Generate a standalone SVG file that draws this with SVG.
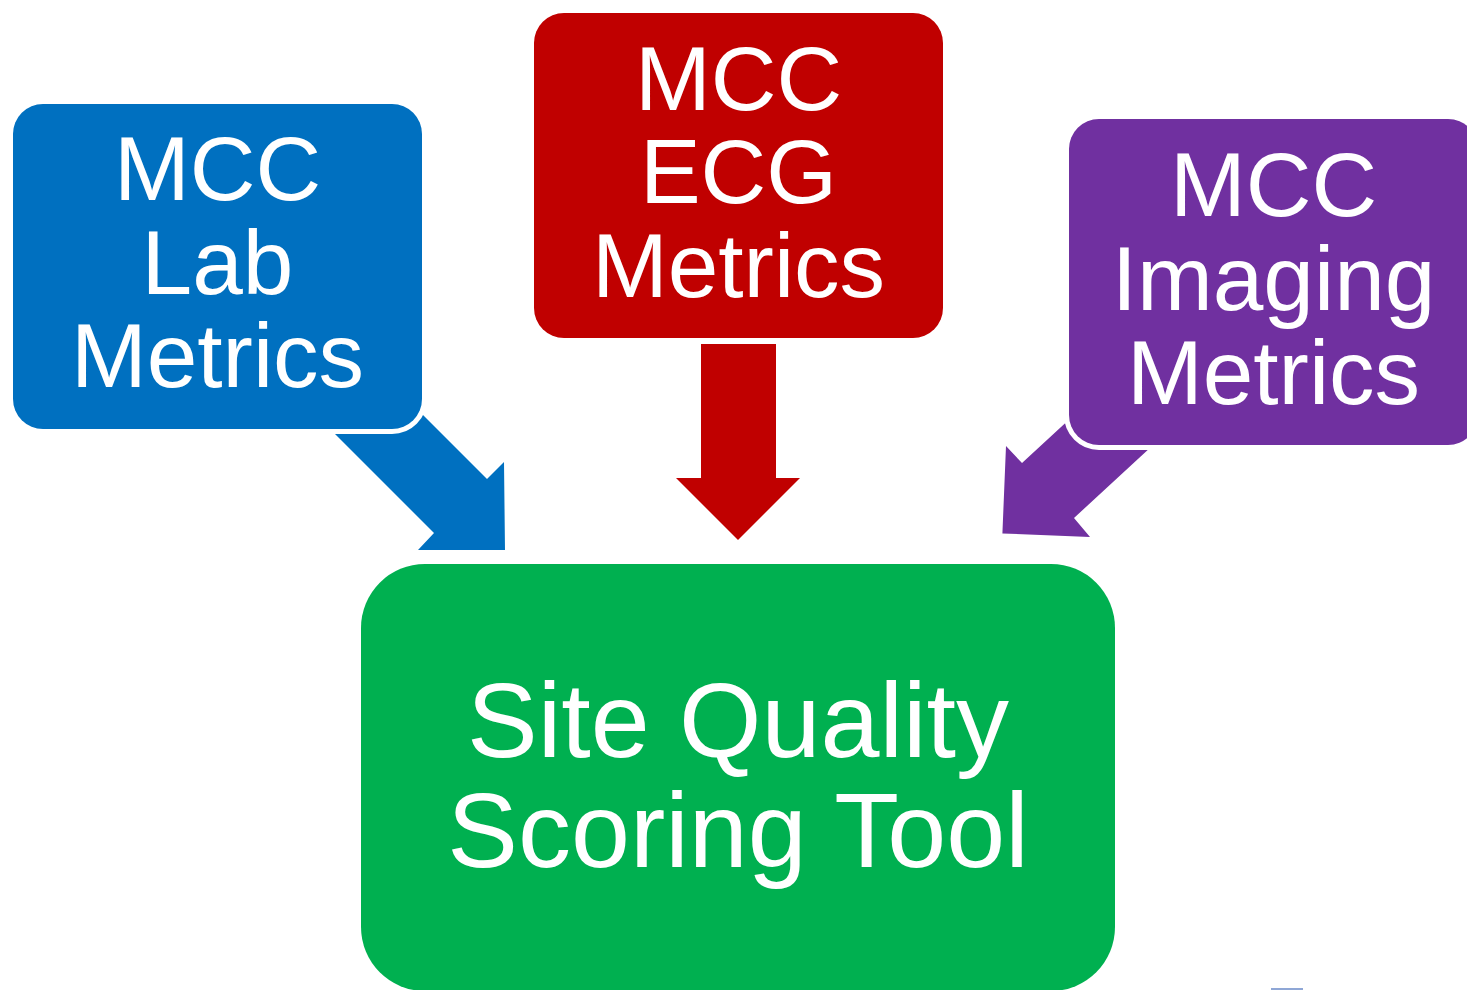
<svg xmlns="http://www.w3.org/2000/svg" width="1467" height="990" viewBox="0 0 1467 990">
  <style>
    .box { stroke: #FFFFFF; stroke-width: 10; paint-order: stroke; }
    .lbl { font-family: "Liberation Sans", Arial, sans-serif; fill: #FFFFFF; text-anchor: middle; }
    .small { font-size: 91px; }
    .big { font-size: 106px; }
  </style>
  <rect width="1467" height="990" fill="#FFFFFF"/>
  <g id="connectors">
    <polygon id="arrow-lab" fill="#0070C0" points="320.5,419.5 434,533 418,550 505,550 504,462 487,479 374,366"/>
    <polygon id="arrow-ecg" fill="#C00000" points="701,344 776,344 776,478 800,478 738,540 676,478 701,478"/>
    <polygon id="arrow-imaging" fill="#7030A0" points="1125,368 1022,463 1006,446 1002.4,533.5 1090,537 1074,518 1177,423"/>
  </g>
  <g id="node-site-quality">
    <rect x="361" y="564" width="754" height="427" rx="64" ry="64" fill="#00B050"/>
    <text class="lbl big" x="738" y="757">Site Quality</text>
    <text class="lbl big" x="738" y="867">Scoring Tool</text>
  </g>
  <g id="node-lab">
    <rect class="box" x="13" y="104" width="409" height="325" rx="30" ry="30" fill="#0070C0"/>
    <text class="lbl small" x="217.5" y="200">MCC</text>
    <text class="lbl small" x="217.5" y="294">Lab</text>
    <text class="lbl small" x="217.5" y="387">Metrics</text>
  </g>
  <g id="node-ecg">
    <rect class="box" x="534" y="13" width="409" height="325" rx="30" ry="30" fill="#C00000"/>
    <text class="lbl small" x="738.5" y="110">MCC</text>
    <text class="lbl small" x="738.5" y="203">ECG</text>
    <text class="lbl small" x="738.5" y="297">Metrics</text>
  </g>
  <g id="node-imaging">
    <rect class="box" x="1069" y="119" width="409" height="326" rx="30" ry="30" fill="#7030A0"/>
    <text class="lbl small" x="1273.5" y="216">MCC</text>
    <text class="lbl small" x="1273.5" y="310">Imaging</text>
    <text class="lbl small" x="1273.5" y="404">Metrics</text>
  </g>
  <rect x="1271" y="988" width="32" height="2" fill="#8FA7D6"/>
</svg>
